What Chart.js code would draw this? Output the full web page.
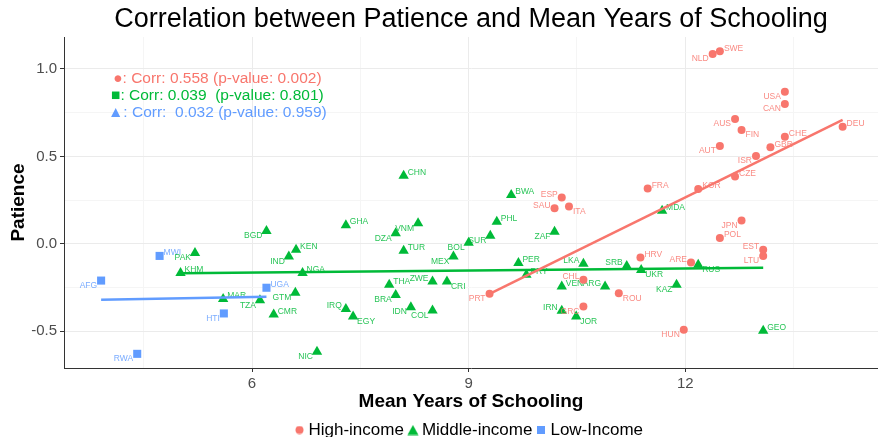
<!DOCTYPE html>
<html>
<head>
<meta charset="utf-8">
<script src="https://cdn.jsdelivr.net/npm/chart.js@4.4.1/dist/chart.umd.min.js"></script>
<style>
  html, body { margin: 0; padding: 0; background: #fff; }
</style>
</head>
<body>
<canvas id="chart" width="878" height="437"></canvas>
<script>
// high-income countries
var highCodes = ['NLD','SWE','USA','CAN','AUS','FIN','AUT','CHE','GBR','ISR','CZE','KOR','DEU','FRA',
  'JPN','POL','EST','LTU','ARE','HRV','ESP','SAU','ITA','CHL','ROU','GRC','HUN','PRT'];
var highX = [12.38,12.48,13.38,13.38,12.69,12.78,12.48,13.38,13.18,12.98,12.69,12.18,14.18,11.48,
  12.78,12.48,13.08,13.08,12.08,11.38,10.29,10.19,10.39,10.59,11.08,10.59,11.98,9.29];
var highY = [1.086,1.101,0.870,0.800,0.714,0.651,0.560,0.613,0.553,0.503,0.385,0.313,0.670,0.316,
  0.133,0.033,-0.034,-0.069,-0.107,-0.078,0.265,0.204,0.213,-0.206,-0.282,-0.358,-0.491,-0.286];

// middle-income countries
var midCodes = ['PAK','KHM','MAR','TZA','CMR','GTM','IND','BGD','KEN','NGA','NIC','GHA','IRQ','EGY',
  'CHN','DZA','VNM','TUR','THA','BRA','IDN','COL','ZWE','CRI','MEX','BOL','SUR','PHL','BWA','ZAF',
  'PER','PRY','LKA','SRB','UKR','VEN','ARG','IRN','JOR','KAZ','MDA','RUS','GEO'];
var midX = [5.21,5.01,5.60,6.11,6.30,6.60,6.51,6.20,6.61,6.70,6.90,7.30,7.30,7.40,
  8.10,7.99,8.30,8.10,7.90,7.99,8.20,8.50,8.50,8.70,8.79,9.00,9.30,9.39,9.59,10.19,
  9.69,9.80,10.59,11.19,11.39,10.29,10.89,10.29,10.49,11.88,11.68,12.18,13.08];
var midY = [-0.053,-0.167,-0.316,-0.322,-0.404,-0.280,-0.073,0.074,-0.034,-0.167,-0.617,0.107,-0.373,-0.415,
  0.390,0.061,0.118,-0.040,-0.234,-0.293,-0.362,-0.381,-0.215,-0.215,-0.073,0.007,0.046,0.126,0.280,0.069,
  -0.110,-0.177,-0.114,-0.126,-0.149,-0.244,-0.244,-0.383,-0.415,-0.234,0.189,-0.120,-0.497];

// low-income countries
var lowCodes = ['AFG','MWI','RWA','HTI','UGA'];
var lowX = [3.91,4.72,4.41,5.61,6.20];
var lowY = [-0.210,-0.069,-0.629,-0.398,-0.251];

// fitted lines (end points)
var highFitX = [9.29, 14.18];
var highFitY = [-0.286, 0.709];
var midFitX = [5.01, 13.08];
var midFitY = [-0.168, -0.137];
var lowFitX = [3.91, 6.20];
var lowFitY = [-0.320, -0.302];

var corrLines = [
  '\u25CF: Corr: 0.558 (p-value: 0.002)',
  '\u25A0: Corr: 0.039  (p-value: 0.801)',
  '\u25B2: Corr:  0.032 (p-value: 0.959)'
];

var xGrid = [4.5, 6, 7.5, 9, 10.5, 12, 13.5];
var xMajor = [6, 9, 12];
var yGrid = [-0.5, -0.25, 0, 0.25, 0.5, 0.75, 1.0];
var yMajor = [-0.5, 0, 0.5, 1.0];

var RED = '#F8766D', GREEN = '#00BA38', BLUE = '#619CFF';
var FONT = '"Liberation Sans", Arial, sans-serif';

// where each country label sits relative to its point (default: ne)
var placement = {
  AFG:'sw', RWA:'sw', HTI:'sw', PAK:'sw', TZA:'sw', GTM:'sw', IND:'sw', BGD:'sw', NIC:'sw',
  IRQ:'nw', EGY:'se', DZA:'sw', VNM:'sw', BRA:'sw', ZWE:'nw', CRI:'se', IDN:'sw', COL:'sw',
  MEX:'sw', BOL:'sw', SUR:'sw', ZAF:'sw', LKA:'nw', SRB:'nw', UKR:'se', ARG:'nw', IRN:'nw',
  JOR:'se', KAZ:'sw', RUS:'se',
  NLD:'sw', USA:'sw', CAN:'sw', AUS:'sw', FIN:'se', AUT:'sw', ISR:'sw', JPN:'sw', EST:'nw',
  LTU:'sw', ARE:'nw', ESP:'nw', SAU:'nw', ITA:'se', CHL:'nw', ROU:'se', GRC:'sw', HUN:'sw', PRT:'sw'
};

function points(xs, ys) {
  return xs.map(function (x, i) { return { x: x, y: ys[i] }; });
}

// small marker images for the legend
function icon(w, h, color, draw) {
  var c = document.createElement('canvas');
  c.width = w; c.height = h;
  var g = c.getContext('2d');
  g.fillStyle = color;
  g.beginPath();
  draw(g);
  g.fill();
  return c;
}
var legendIcons = [
  icon(9, 9, RED, function (g) { g.arc(4.5, 4.5, 4, 0, Math.PI * 2); }),
  icon(12, 11, GREEN, function (g) { g.moveTo(6, 0.5); g.lineTo(11.5, 10.5); g.lineTo(0.5, 10.5); g.closePath(); }),
  icon(8, 8, BLUE, function (g) { g.rect(0, 0, 8, 8); })
];

var labelPlugin = {
  id: 'pointLabels',
  afterDatasetDraw: function (chart, args) {
    var ds = chart.data.datasets[args.index];
    if (!ds.codes) return;
    var ctx = chart.ctx;
    ctx.save();
    ctx.font = '8.5px ' + FONT;
    ctx.fillStyle = ds.labelColor;
    ctx.textBaseline = 'middle';
    args.meta.data.forEach(function (pt, i) {
      var code = ds.codes[i];
      var side = placement[code] || 'ne';
      var dx = side[1] === 'e' ? 4 : -4;
      var dy = side[0] === 'n' ? -3 : 5;
      ctx.textAlign = dx > 0 ? 'left' : 'right';
      ctx.fillText(code, pt.x + dx, pt.y + dy);
    });
    ctx.restore();
  }
};

var corrPlugin = {
  id: 'corrText',
  afterDraw: function (chart) {
    var ctx = chart.ctx;
    var xs = chart.scales.x, ys = chart.scales.y;
    var cx = xs.getPixelForValue(5.52);
    var rows = [0.943, 0.846, 0.749];
    var colors = [RED, GREEN, BLUE];
    ctx.save();
    ctx.font = '15.5px ' + FONT;
    ctx.textAlign = 'center';
    ctx.textBaseline = 'middle';
    corrLines.forEach(function (t, i) {
      ctx.fillStyle = colors[i];
      ctx.fillText(t, cx, ys.getPixelForValue(rows[i]));
    });
    ctx.restore();
  }
};

function gridColor(majors) {
  return function (c) { return majors.indexOf(c.tick.value) >= 0 ? '#EBEBEB' : '#F5F5F5'; };
}
function tickColor(majors) {
  return function (c) { return majors.indexOf(c.tick.value) >= 0 ? '#333333' : 'rgba(0,0,0,0)'; };
}

new Chart(document.getElementById('chart'), {
  type: 'scatter',
  data: {
    datasets: [
      { label: 'High-income', data: points(highX, highY), codes: highCodes, labelColor: 'rgba(248,118,109,0.85)',
        pointStyle: 'circle', pointRadius: 4, backgroundColor: RED, borderColor: RED, borderWidth: 0, order: 1 },
      { label: 'Middle-income', data: points(midX, midY), codes: midCodes, labelColor: 'rgba(0,186,56,0.85)',
        pointStyle: 'triangle', pointRadius: 6, backgroundColor: GREEN, borderColor: GREEN, borderWidth: 0, order: 1 },
      { label: 'Low-Income', data: points(lowX, lowY), codes: lowCodes, labelColor: 'rgba(97,156,255,0.85)',
        pointStyle: 'rect', pointRadius: 5.7, backgroundColor: BLUE, borderColor: BLUE, borderWidth: 0, order: 1 },
      { type: 'line', label: 'fitHigh', data: points(highFitX, highFitY), borderColor: RED, borderWidth: 2.5,
        pointRadius: 0, order: 0 },
      { type: 'line', label: 'fitMid', data: points(midFitX, midFitY), borderColor: GREEN, borderWidth: 2.5,
        pointRadius: 0, order: 0 },
      { type: 'line', label: 'fitLow', data: points(lowFitX, lowFitY), borderColor: BLUE, borderWidth: 2.5,
        pointRadius: 0, order: 0 }
    ]
  },
  options: {
    responsive: false,
    animation: false,
    events: [],
    layout: { autoPadding: false, padding: { top: 0, left: 0, right: 0, bottom: -11.5 } },
    plugins: {
      tooltip: { enabled: false },
      title: {
        display: true,
        fullSize: false,
        text: 'Correlation between Patience and Mean Years of Schooling',
        color: '#000',
        font: { family: FONT, size: 27, weight: 'normal' },
        padding: { top: 3, bottom: 1.6 }
      },
      legend: {
        position: 'bottom',
        fullSize: false,
        labels: {
          generateLabels: function (chart) {
            var items = Chart.defaults.plugins.legend.labels.generateLabels(chart);
            return items.filter(function (it) { return it.datasetIndex < 3; }).map(function (it) {
              it.pointStyle = legendIcons[it.datasetIndex];
              return it;
            });
          },
          usePointStyle: true,
          boxWidth: 1,
          padding: 8.5,
          color: '#000',
          font: { family: FONT, size: 17 }
        }
      }
    },
    scales: {
      x: {
        type: 'linear',
        min: 3.396,
        max: 14.67,
        afterBuildTicks: function (s) { s.ticks = xGrid.map(function (v) { return { value: v }; }); },
        afterFit: function (s) { s.height = 45; s.paddingLeft = 0; s.paddingRight = 0; },
        ticks: {
          autoSkip: false, maxRotation: 0, padding: 3, color: '#4D4D4D',
          font: { family: FONT, size: 15 },
          callback: function (v) { return xMajor.indexOf(v) >= 0 ? String(v) : ''; }
        },
        grid: { color: gridColor(xMajor), tickColor: tickColor(xMajor), tickLength: 4, lineWidth: 1 },
        border: { display: true, color: '#333333', width: 1 },
        title: {
          display: true, text: 'Mean Years of Schooling', color: '#000',
          font: { family: FONT, size: 19, weight: 'bold' },
          padding: { top: 0, bottom: 0 }
        }
      },
      y: {
        type: 'linear',
        min: -0.71,
        max: 1.183,
        afterBuildTicks: function (s) { s.ticks = yGrid.map(function (v) { return { value: v }; }); },
        afterFit: function (s) { s.width = 64; s.paddingTop = 0; s.paddingBottom = 0; },
        ticks: {
          autoSkip: false, padding: 3, color: '#4D4D4D',
          font: { family: FONT, size: 15 },
          callback: function (v) { return yMajor.indexOf(v) >= 0 ? v.toFixed(1) : ''; }
        },
        grid: { color: gridColor(yMajor), tickColor: tickColor(yMajor), tickLength: 4, lineWidth: 1 },
        border: { display: true, color: '#333333', width: 1 },
        title: {
          display: true, text: 'Patience', color: '#000',
          font: { family: FONT, size: 19, weight: 'bold' },
          padding: { top: 7, bottom: 0 }
        }
      }
    }
  },
  plugins: [labelPlugin, corrPlugin]
});
</script>
</body>
</html>
